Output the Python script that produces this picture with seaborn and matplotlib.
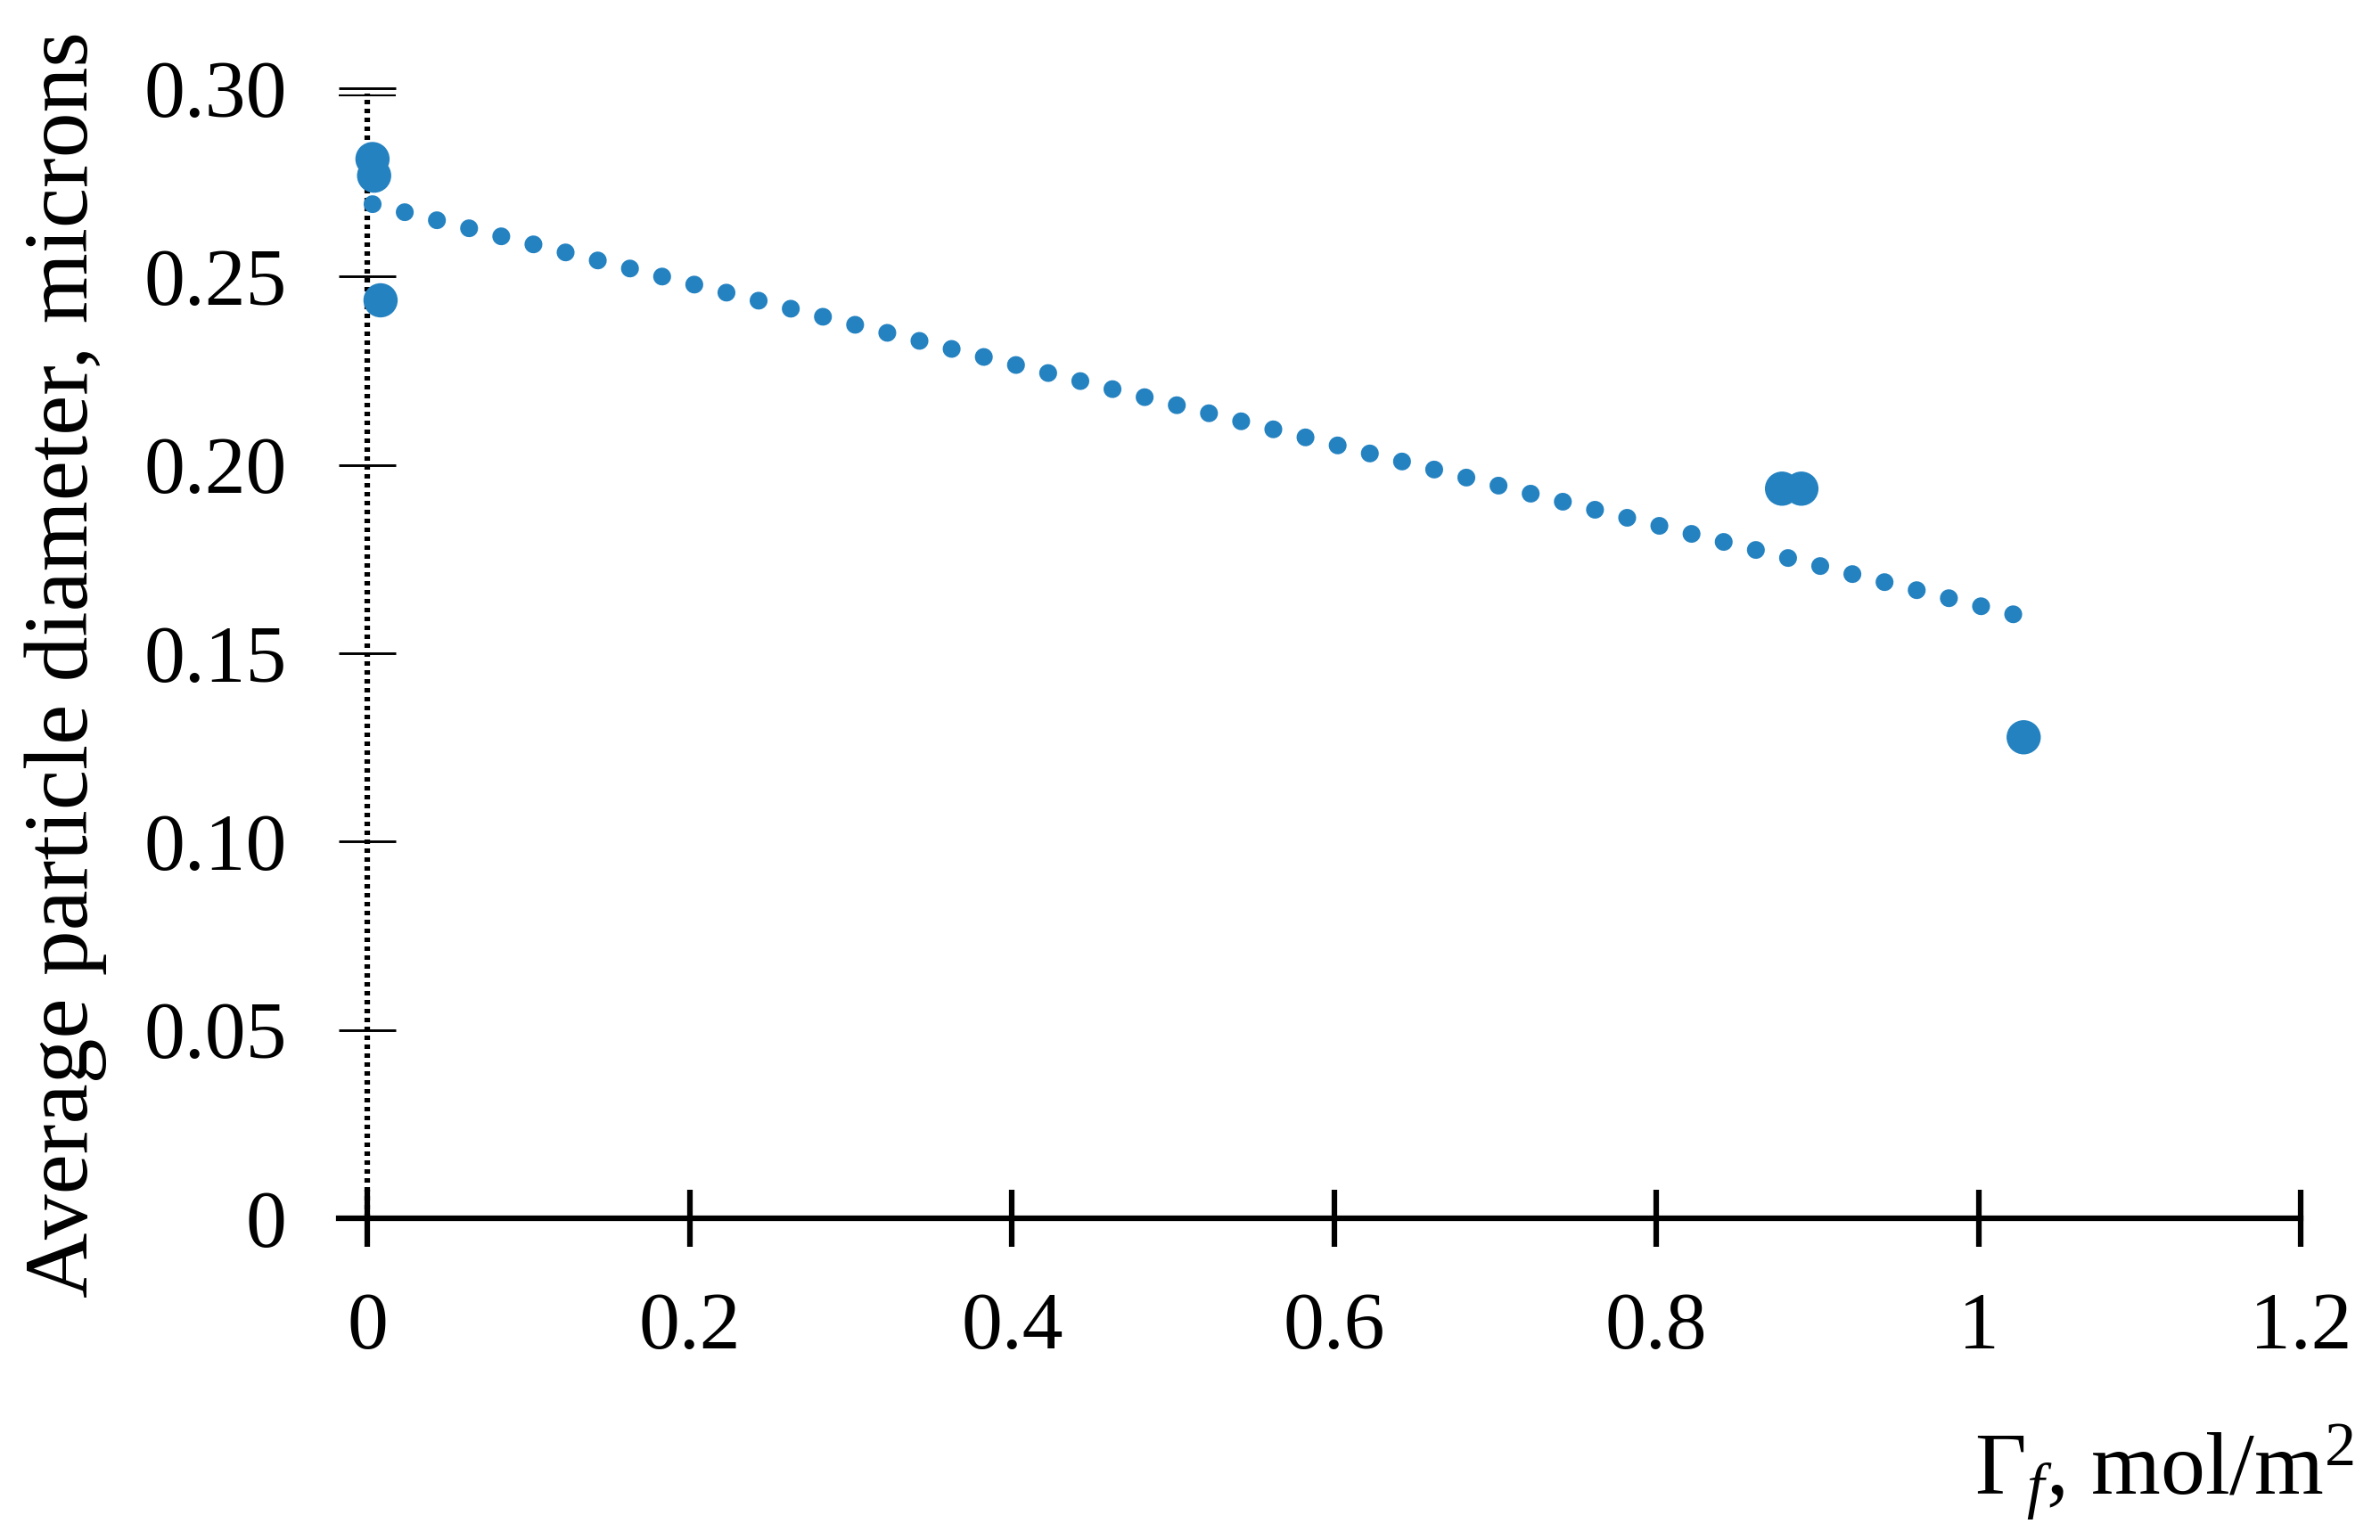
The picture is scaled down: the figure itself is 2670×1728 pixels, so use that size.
import numpy as np
import pandas as pd
import matplotlib
matplotlib.use("Agg")
import matplotlib.pyplot as plt
import seaborn as sns

# Data
surface_excess = [0.003, 0.004, 0.008, 0.878, 0.890, 1.028]
particle_diam = [0.2812, 0.2768, 0.2437, 0.1937, 0.1937, 0.1277]

x_ticks = [0, 0.2, 0.4, 0.6, 0.8, 1.0, 1.2]
x_labels = ["0", "0.2", "0.4", "0.6", "0.8", "1", "1.2"]
y_ticks = [0, 0.05, 0.10, 0.15, 0.20, 0.25, 0.30]
y_labels = ["0", "0.05", "0.10", "0.15", "0.20", "0.25", "0.30"]

df = pd.DataFrame({"gamma": surface_excess, "diam": particle_diam})

blue = "#2482c1"

sns.set_style("white")
plt.rcParams["font.family"] = ["Liberation Serif", "DejaVu Serif"]
plt.rcParams["mathtext.fontset"] = "custom"
plt.rcParams["mathtext.rm"] = "Liberation Serif"
plt.rcParams["mathtext.it"] = "Liberation Serif:italic"
plt.rcParams["text.color"] = "black"
plt.rcParams["axes.labelcolor"] = "black"
plt.rcParams["xtick.color"] = "black"
plt.rcParams["ytick.color"] = "black"
plt.rcParams["axes.edgecolor"] = "black"

fig = plt.figure(figsize=(8.9, 5.76), dpi=300)
ax = fig.add_axes([0.1423, 0.2089, 0.8244, 0.7338])

# linear trend line through the points
sns.regplot(data=df, x="gamma", y="diam", scatter=False, ci=None, ax=ax,
            line_kws=dict(color=blue, lw=4.8, ls=(0, (0.01, 1.85)),
                          dash_capstyle="round", zorder=2))
sns.scatterplot(data=df, x="gamma", y="diam", ax=ax, color=blue, s=85,
                edgecolor="none", zorder=3, clip_on=False)

ax.set_xlim(-0.018, 1.2)
ax.set_ylim(0, 0.30)

for side in ["top", "right"]:
    ax.spines[side].set_visible(False)
# y axis sits at x = 0 and is drawn dotted
ax.spines["left"].set_position(("data", 0))
ax.spines["left"].set_visible(False)
ax.axvline(0, ymin=0, ymax=0.995, color="black", lw=1.5,
           ls=(0, (0.8, 0.8)), zorder=1)
ax.spines["bottom"].set_linewidth(1.5)

ax.set_xticks(x_ticks)
ax.set_xticklabels(x_labels)
ax.set_yticks(y_ticks)
ax.set_yticklabels(y_labels)
ax.set_yticks([0.2982], minor=True)
ax.tick_params(axis="x", direction="inout", length=15.5, width=1.5,
               labelsize=22, pad=12)
ax.tick_params(axis="y", direction="inout", length=15.5, width=0.7,
               labelsize=22, pad=14)
ax.tick_params(axis="y", which="minor", direction="inout", length=15.5,
               width=0.5, left=True)
ax.yaxis.set_ticks_position("left")
ax.xaxis.set_ticks_position("bottom")

ax.set_xlabel("")
ax.set_ylabel("Average particle diameter, microns", fontsize=24.4)
ax.yaxis.set_label_coords(-0.118, 0.49)
fig.text(0.989, 0.029, r"$\Gamma_{f}$, mol/m$^{2}$", fontsize=24,
         ha="right", va="baseline")

fig.savefig("out.png", dpi=300, facecolor="white")
